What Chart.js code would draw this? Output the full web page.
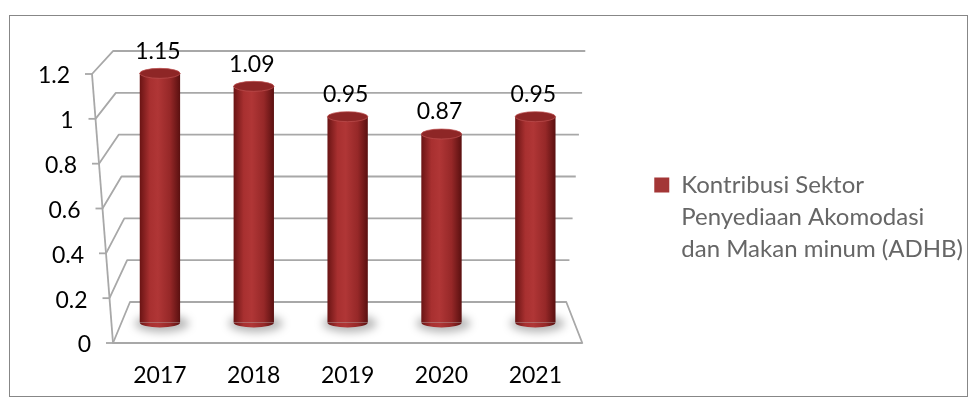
<!DOCTYPE html>
<html>
<head>
<meta charset="utf-8">
<script src="https://cdn.jsdelivr.net/npm/chart.js@4.4.0/dist/chart.umd.min.js"></script>
<style>
  html, body { margin: 0; padding: 0; background: #fff; }
  #wrap { position: relative; width: 978px; height: 411px; }
  #frame { position: absolute; left: 9px; top: 15px; width: 959px; height: 382px; border: 1px solid #878787; box-sizing: border-box; }
  canvas { position: absolute; left: 0; top: 0; }
</style>
</head>
<body>
<div id="wrap">
  <div id="frame"></div>
  <canvas id="grafik" width="978" height="411"></canvas>
</div>
<script>
const tahun = ["2017", "2018", "2019", "2020", "2021"];
const kontribusi = [1.15, 1.09, 0.95, 0.87, 0.95];
const tickY = [0, 0.2, 0.4, 0.6, 0.8, 1, 1.2];
const labelSeri = ["Kontribusi Sektor", "Penyediaan Akomodasi", "dan Makan minum (ADHB)"];

const FONT = "Lato";
const ukuranFont = 23;
const warnaLegenda = "#a33636";
const warnaGaris = "#a8a8a8";
const lebarBatang = 0.43;

// fungsi perspektif (dinding belakang lebih kecil dan naik ke atas)
function perspektif(chart) {
    const sx = chart.scales.x, sy = chart.scales.y;
    const base = sy.getPixelForValue(0);
    const tinggi = base - sy.getPixelForValue(sy.max);
    const yF = v => sy.getPixelForValue(v);
    const yB = v => base - 41 - (base - yF(v)) * 0.933;
    const t = v => (base - yF(v)) / tinggi;
    return {
        base, yF, yB,
        xFL: v => sx.left - 21 * t(v),
        xBL: v => sx.left + 17 - 17 * t(v),
        xBR: v => sx.right - 16 + 19 * t(v),
        // posisi batang di tengah kedalaman
        k: 0.9665,
        ty: base * (1 - 0.9665) - 20.5
    };
}

function gradienSilinder(ctx, xc, half) {
    const g = ctx.createLinearGradient(xc - half, 0, xc + half, 0);
    g.addColorStop(0, "#6a1414");
    g.addColorStop(0.25, "#a83030");
    g.addColorStop(0.45, "#b03636");
    g.addColorStop(0.75, "#962828");
    g.addColorStop(1, "#5a1010");
    return g;
}

const plugin3D = {
    id: "plugin3D",
    beforeDatasetsDraw(chart) {
        const ctx = chart.ctx;
        const sx = chart.scales.x;
        const p = perspektif(chart);
        const vMax = tickY[tickY.length - 1];

        ctx.save();
        ctx.strokeStyle = warnaGaris;
        ctx.lineWidth = 1.8;
        ctx.lineJoin = "round";

        // lantai
        ctx.beginPath();
        ctx.moveTo(p.xFL(0), p.base);
        ctx.lineTo(p.xBL(0), p.yB(0));
        ctx.lineTo(p.xBR(0), p.yB(0));
        ctx.lineTo(sx.right, p.base);
        ctx.closePath();
        ctx.stroke();

        // garis grid dinding belakang
        tickY.forEach(v => {
            if (v === 0) return;
            ctx.beginPath();
            ctx.moveTo(p.xFL(v), p.yF(v));
            ctx.lineTo(p.xBL(v), p.yB(v));
            ctx.lineTo(p.xBR(v), p.yB(v));
            ctx.stroke();
        });

        // sumbu depan + tick
        ctx.beginPath();
        ctx.moveTo(p.xFL(vMax), p.yF(vMax));
        ctx.lineTo(p.xFL(0), p.base);
        ctx.stroke();
        tickY.forEach(v => {
            ctx.beginPath();
            ctx.moveTo(p.xFL(v) - 7, p.yF(v));
            ctx.lineTo(p.xFL(v), p.yF(v));
            ctx.stroke();
        });

        // label sumbu Y
        ctx.fillStyle = "#000";
        ctx.font = ukuranFont + "px " + FONT;
        ctx.textAlign = "right";
        ctx.textBaseline = "middle";
        tickY.forEach(v => ctx.fillText(String(v), p.xFL(v) - 22, p.yF(v) + 2));

        // bayangan di bawah batang
        const meta = chart.getDatasetMeta(0);
        ctx.filter = "blur(4px)";
        ctx.fillStyle = "rgba(0,0,0,0.28)";
        meta.data.forEach(el => {
            const yb = p.k * el.base + p.ty;
            ctx.beginPath();
            ctx.ellipse(el.x + 2, yb + 1, el.width / 2 + 7, 9, 0, 0, Math.PI * 2);
            ctx.fill();
        });
        ctx.restore();

        // batang digambar di tengah kedalaman
        ctx.save();
        ctx.translate(0, p.ty);
        ctx.scale(1, p.k);
    },
    afterDatasetsDraw(chart) {
        const ctx = chart.ctx;
        ctx.restore();
        const p = perspektif(chart);
        const meta = chart.getDatasetMeta(0);
        const ds = chart.data.datasets[0];
        meta.data.forEach((el, i) => {
            const half = el.width / 2;
            const yTop = p.k * el.y + p.ty;
            const yBot = p.k * el.base + p.ty;
            const ry = 5;
            // alas membulat
            ctx.beginPath();
            ctx.ellipse(el.x, yBot, half, ry, 0, 0, Math.PI);
            ctx.fillStyle = gradienSilinder(ctx, el.x, half);
            ctx.fill();
            // tutup atas
            ctx.beginPath();
            ctx.ellipse(el.x, yTop, half, ry, 0, 0, Math.PI * 2);
            ctx.fillStyle = "#8e2626";
            ctx.fill();
            ctx.strokeStyle = "rgba(190,80,80,0.7)";
            ctx.lineWidth = 1;
            ctx.stroke();
            // label data
            ctx.fillStyle = "#000";
            ctx.font = ukuranFont + "px " + FONT;
            ctx.textAlign = "center";
            ctx.textBaseline = "middle";
            ctx.fillText(String(ds.data[i]), el.x - 2, yTop - 22);
        });
    }
};

new Chart(document.getElementById("grafik"), {
    type: "bar",
    data: {
        labels: tahun,
        datasets: [{
            label: labelSeri.join(" "),
            data: kontribusi,
            backgroundColor: c => {
                const sx = c.chart.scales.x;
                if (!sx || c.dataIndex === undefined) return warnaLegenda;
                const half = (sx.right - sx.left) / tahun.length * lebarBatang / 2;
                return gradienSilinder(c.chart.ctx, sx.getPixelForValue(c.dataIndex), half);
            },
            borderWidth: 0,
            barPercentage: lebarBatang,
            categoryPercentage: 1
        }]
    },
    options: {
        responsive: false,
        animation: false,
        layout: { padding: { top: 74, right: 5, bottom: 0, left: 0 } },
        scales: {
            x: {
                grid: { display: false, drawTicks: false },
                border: { display: false },
                ticks: { color: "#000", font: { family: FONT, size: ukuranFont }, padding: 19 },
                afterFit: s => { s.height = 68; }
            },
            y: {
                min: tickY[0],
                max: tickY[tickY.length - 1],
                ticks: { display: false, stepSize: 0.2 },
                grid: { display: false },
                border: { display: false },
                afterFit: s => { s.width = 113; }
            },
            kanan: {
                type: "linear",
                position: "right",
                ticks: { display: false },
                grid: { display: false },
                border: { display: false },
                afterFit: s => { s.width = 62; }
            }
        },
        plugins: {
            tooltip: { enabled: false },
            legend: {
                position: "right",
                fullSize: false,
                maxWidth: 420,
                title: { display: true, text: "", font: { size: 1, lineHeight: 1 }, padding: { top: 24, bottom: 0 } },
                labels: {
                    boxWidth: 15,
                    boxHeight: 15,
                    padding: 10,
                    color: "#000",
                    font: { family: FONT, size: 24, lineHeight: 1.33 },
                    generateLabels: () => [{
                        text: labelSeri,
                        fillStyle: warnaLegenda,
                        strokeStyle: warnaLegenda,
                        lineWidth: 0,
                        hidden: false,
                        datasetIndex: 0
                    }]
                }
            }
        }
    },
    plugins: [plugin3D]
});
</script>
</body>
</html>
